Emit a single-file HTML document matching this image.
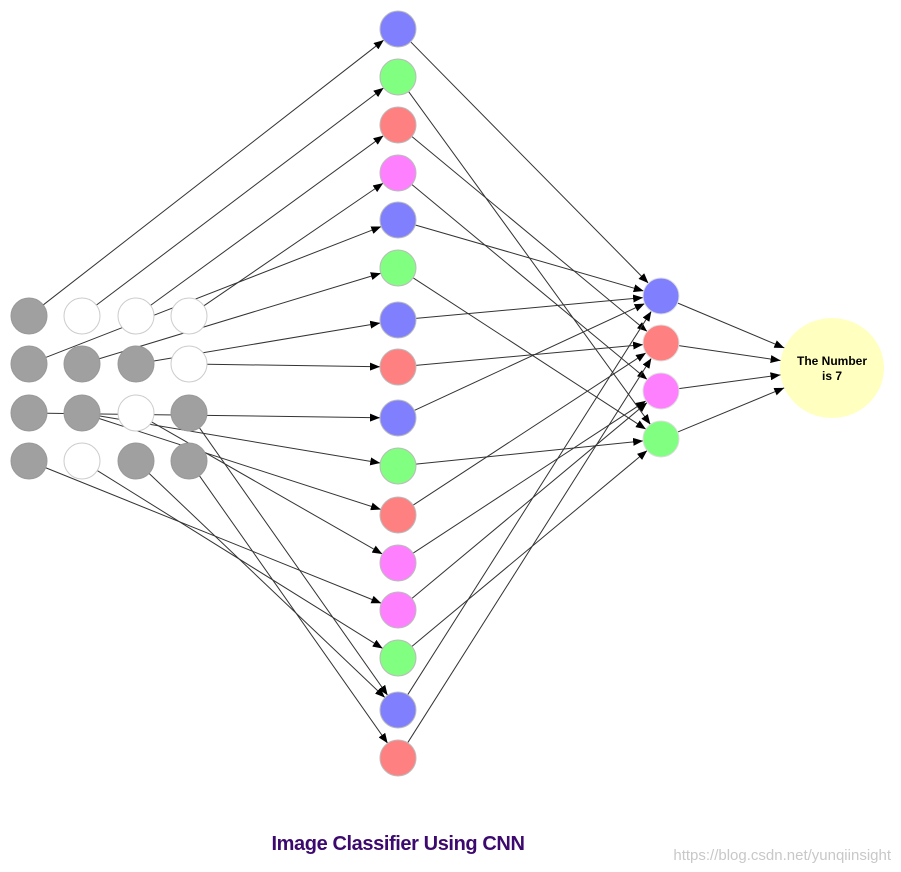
<!DOCTYPE html>
<html><head><meta charset="utf-8"><style>
html,body{margin:0;padding:0;background:#fff;width:901px;height:872px;overflow:hidden}
svg{display:block}
</style></head><body>
<svg id="s" width="901" height="872" xmlns="http://www.w3.org/2000/svg">
<defs><marker id="a" markerWidth="10" markerHeight="8" refX="10" refY="4" orient="auto" markerUnits="userSpaceOnUse"><path d="M0,0 L10,4 L0,8 z" fill="#000"/></marker></defs>
<g id="L" stroke="#333" stroke-width="1" fill="none"></g>
<g id="N"></g>
<ellipse cx="832" cy="368" rx="52" ry="50" fill="#ffffc0"/>
<text x="832" y="365" text-anchor="middle" font-family="Liberation Sans, sans-serif" font-weight="bold" font-size="12" fill="#000">The Number</text>
<text x="832" y="380" text-anchor="middle" font-family="Liberation Sans, sans-serif" font-weight="bold" font-size="12" fill="#000">is 7</text>
<text x="398" y="850" text-anchor="middle" font-family="Liberation Sans, sans-serif" font-weight="bold" font-size="20" letter-spacing="-0.4" fill="#3c0a6e">Image Classifier Using CNN</text>
<text x="891" y="860" text-anchor="end" font-family="Liberation Sans, sans-serif" font-size="15" fill="#c8c8c8">https://blog.csdn.net/yunqiinsight</text>
</svg>
<script>
var NS="http://www.w3.org/2000/svg",L=document.getElementById('L'),N=document.getElementById('N');
var B="#8080ff",G="#80ff80",R="#ff8080",P="#ff80ff",GR="#a0a0a0",W="#fff";
var ix=[29,82,136,189],iy=[316,364,413,461];
var grid=[[1,0,0,0],[1,1,1,0],[1,1,0,1],[1,0,1,1]];
var my=[29,77,125,173,220,268,320,367,418,466,515,563,610,658,710,758];
var mc=[B,G,R,P,B,G,B,R,B,G,R,P,P,G,B,R];
var ry=[296,343,391,439],rc=[B,R,P,G];
function circ(x,y,f,st){var c=document.createElementNS(NS,'circle');c.setAttribute('cx',x);c.setAttribute('cy',y);c.setAttribute('r',18);c.setAttribute('fill',f);c.setAttribute('stroke',st);c.setAttribute('stroke-width',1);N.appendChild(c);}
function line(x1,y1,x2,y2,r1,ell){var dx=x2-x1,dy=y2-y1,d=Math.hypot(dx,dy),ux=dx/d,uy=dy/d;
 var sx=x1+ux*r1,sy=y1+uy*r1,ex,ey;
 if(ell){var t=1/Math.sqrt((ux*ux)/(52*52)+(uy*uy)/(50*50));ex=x2-ux*t;ey=y2-uy*t;}else{ex=x2-ux*18;ey=y2-uy*18;}
 var l=document.createElementNS(NS,'line');l.setAttribute('x1',sx);l.setAttribute('y1',sy);l.setAttribute('x2',ex);l.setAttribute('y2',ey);l.setAttribute('marker-end','url(#a)');L.appendChild(l);}
var ie=[[0,0,0],[1,0,1],[2,0,2],[3,0,3],[0,1,4],[1,1,5],[2,1,6],[3,1,7],[0,2,8],[1,2,9],[1,2,10],[2,2,11],[0,3,12],[1,3,13],[2,3,14],[3,2,14],[3,3,15]];
ie.forEach(function(e){line(ix[e[0]],iy[e[1]],398,my[e[2]],18);});
var me=[0,3,1,2,0,3,0,1,0,3,1,2,2,3,0,1];
me.forEach(function(r,i){line(398,my[i],661,ry[r],18);});
ry.forEach(function(y){line(661,y,832,368,18,true);});
for(var r=0;r<4;r++)for(var c=0;c<4;c++){var g=grid[r][c];circ(ix[c],iy[r],g?GR:W,g?"#999":"#ccc");}
my.forEach(function(y,i){circ(398,y,mc[i],"#bbb");});
ry.forEach(function(y,i){circ(661,y,rc[i],"#ddd");});
</script>
</body></html>
